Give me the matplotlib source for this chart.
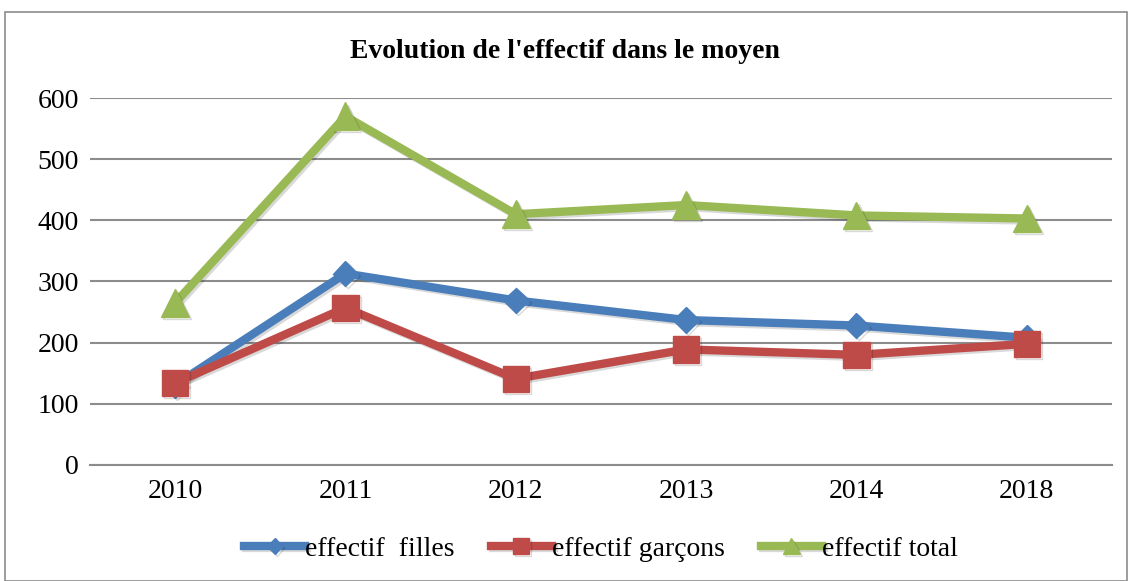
import matplotlib
matplotlib.use("Agg")
import matplotlib.pyplot as plt
import matplotlib.patheffects as pe
from matplotlib.patches import Rectangle

plt.rcParams['font.family'] = ['Liberation Serif', 'DejaVu Serif']

# data
annees = ["2010", "2011", "2012", "2013", "2014", "2018"]
filles = [131, 313, 269, 237, 228, 208]
garcons = [134, 257, 141, 189, 180, 198]
total = [265, 570, 410, 425, 408, 403]

fig = plt.figure(figsize=(11.3, 5.81), dpi=100)
ax = fig.add_axes([0.0796, 0.1997, 0.9044, 0.6316])

# outer frame of the chart
fig.patches.append(Rectangle((0.004, 0.0), 0.993, 0.979, transform=fig.transFigure,
                             fill=False, edgecolor='#8c8c8c', linewidth=1.2))

x = list(range(len(annees)))
shadow = [pe.SimpleLineShadow(offset=(1.5, -1.5), alpha=0.15), pe.Normal()]

ax.plot(x, filles, color='#4a7ebb', lw=6, marker='D', markersize=13,
        label='effectif  filles', path_effects=shadow, zorder=3)
ax.plot(x, garcons, color='#be4b48', lw=6, marker='s', markersize=19,
        label='effectif garçons', path_effects=shadow, zorder=4)
ax.plot(x, total, color='#98b954', lw=6, marker='^', markersize=20,
        label='effectif total', path_effects=shadow, zorder=2)

ax.set_xlim(-0.5, len(annees) - 0.5)
ax.set_ylim(0, 600)
ax.set_yticks(range(0, 601, 100))
ax.set_xticks(x)
ax.set_xticklabels(annees)
ax.tick_params(axis='both', length=0, labelsize=20)
ax.tick_params(axis='y', pad=8)
ax.tick_params(axis='x', pad=10)
ax.yaxis.grid(True, color='#8c8c8c', linewidth=1.5)
ax.set_axisbelow(True)
for s in ['top', 'right', 'left']:
    ax.spines[s].set_visible(False)
ax.spines['bottom'].set_color('#8c8c8c')
ax.spines['bottom'].set_linewidth(1.5)

fig.text(0.5, 0.912, "Evolution de l'effectif dans le moyen", ha='center',
         va='center', fontsize=20, fontweight='bold')

ax.legend(loc='center', bbox_to_anchor=(0.5, -0.229), ncol=3, frameon=False,
          fontsize=20, handlelength=2.2, handletextpad=0.0, columnspacing=1.3,
          markerscale=0.6)

fig.savefig('out.png', dpi=100)
